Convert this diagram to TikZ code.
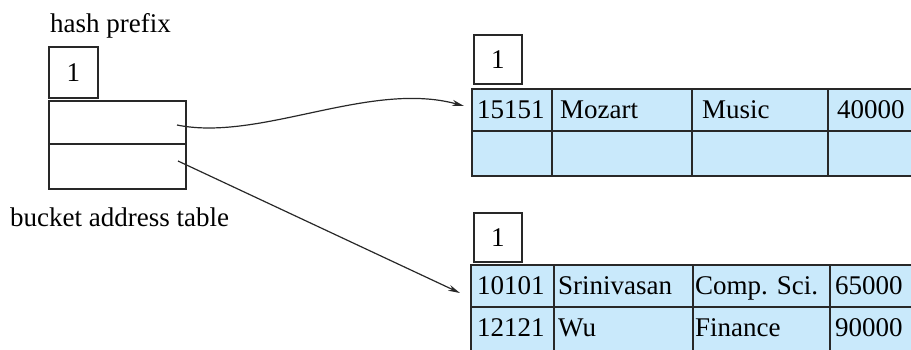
\documentclass[tikz,border=0pt]{standalone}
\usepackage{fontspec}
\setmainfont{Liberation Serif}
\usetikzlibrary{arrows.meta}
\definecolor{cellblue}{RGB}{201,233,251}
\definecolor{linegray}{RGB}{40,40,40}
\begin{document}
\begin{tikzpicture}[x=1pt,y=-1pt,
  every node/.style={font=\fontsize{27}{30}\selectfont, text=black},
  box/.style={draw=linegray, line width=1.7pt, inner sep=0pt, anchor=north west, text height=18pt, text depth=0pt},
  cell/.style={box, fill=cellblue},
  txt/.style={anchor=base west, inner sep=0pt},
  ptr/.style={draw=linegray, line width=1.2pt, -{Stealth[length=12pt,width=6pt]}}]
\useasboundingbox (0,0) rectangle (911,350);
% left side
\node[txt] (hp) at (50,33) {hash prefix};
\node[box, minimum width=49pt, minimum height=51pt] (gd) at (48,46) {1};
\node[box, minimum width=137pt, minimum height=43pt] (b0) at (48,100) {};
\node[box, minimum width=137pt, minimum height=45pt] (b1) at (48,143) {};
\node[txt] (bat) at (10,226) {bucket address table};
% top bucket
\node[box, minimum width=48pt, minimum height=49pt] (ld1) at (473,34) {1};
\node[cell, minimum width=80pt, minimum height=42pt] (p11) at (471,88) {};
\node[cell, minimum width=140pt, minimum height=42pt] (p12) at (551,88) {};
\node[cell, minimum width=136pt, minimum height=42pt] (p13) at (691,88) {};
\node[cell, minimum width=140pt, minimum height=42pt] (p14) at (827,88) {};
\node[cell, minimum width=80pt, minimum height=45pt] (p21) at (471,130) {};
\node[cell, minimum width=140pt, minimum height=45pt] (p22) at (551,130) {};
\node[cell, minimum width=136pt, minimum height=45pt] (p23) at (691,130) {};
\node[cell, minimum width=140pt, minimum height=45pt] (p24) at (827,130) {};
\node[txt] (t11) at (477,119) {15151};
\node[txt] (t12) at (560,119) {Mozart};
\node[txt] (t13) at (702,119) {Music};
\node[txt] (t14) at (837,119) {40000};
% bottom bucket
\node[box, minimum width=48pt, minimum height=49pt] (ld2) at (473,212) {1};
\node[cell, minimum width=83pt, minimum height=42pt] (q11) at (470,264) {};
\node[cell, minimum width=139pt, minimum height=42pt] (q12) at (553,264) {};
\node[cell, minimum width=137pt, minimum height=42pt] (q13) at (692,264) {};
\node[cell, minimum width=140pt, minimum height=42pt] (q14) at (829,264) {};
\node[cell, minimum width=83pt, minimum height=48pt] (q21) at (470,306) {};
\node[cell, minimum width=139pt, minimum height=48pt] (q22) at (553,306) {};
\node[cell, minimum width=137pt, minimum height=48pt] (q23) at (692,306) {};
\node[cell, minimum width=140pt, minimum height=48pt] (q24) at (829,306) {};
\node[txt] (u11) at (477,294) {10101};
\node[txt] (u12) at (558,294) {Srinivasan};
\node[txt] (u13) at (695,294) {Comp. Sci.};
\node[txt] (u14) at (835,294) {65000};
\node[txt] (u21) at (477,336) {12121};
\node[txt] (u22) at (558,336) {Wu};
\node[txt] (u23) at (695,336) {Finance};
\node[txt] (u24) at (835,336) {90000};
% pointers
\coordinate (s0) at (177,125);
\coordinate (s1) at (178,161);
\coordinate (e0) at (464,106);
\coordinate (e1) at (460,293);
\draw[ptr] (s0) .. controls (260,142) and (370,80) .. (e0);
\draw[ptr] (s1) -- (e1);
\end{tikzpicture}
\end{document}
